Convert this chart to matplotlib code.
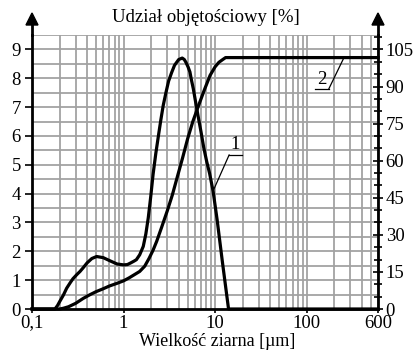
import matplotlib
matplotlib.use("Agg")
import matplotlib.pyplot as plt
from matplotlib.patches import Polygon
from matplotlib.ticker import FixedLocator, MultipleLocator, NullFormatter

plt.rcParams["font.family"] = ["Liberation Serif", "DejaVu Serif"]
plt.rcParams["font.size"] = 13.5

# Curve 1: frequency distribution, left axis [%]
size_1 = [0.1, 0.178, 0.19, 0.2, 0.22, 0.239, 0.26, 0.28, 0.31, 0.334, 0.36, 0.4,
          0.45, 0.508, 0.6, 0.7, 0.85, 1.0, 1.1, 1.2, 1.3, 1.38, 1.5, 1.64, 1.75,
          1.86, 1.98, 2.1, 2.25, 2.4, 2.55, 2.71, 2.9, 3.1, 3.35, 3.6, 4.0, 4.37,
          4.6, 4.8, 5.05, 5.3, 5.5, 5.77, 6.1, 6.5, 7.0, 7.5, 8.1, 8.7, 9.5, 10.5,
          12.0, 14.0, 600]
freq_1 = [0, 0, 0.12, 0.25, 0.48, 0.72, 0.9, 1.05, 1.2, 1.3, 1.42, 1.6,
          1.75, 1.82, 1.78, 1.68, 1.56, 1.53, 1.54, 1.6, 1.66, 1.71, 1.88, 2.17, 2.6,
          3.16, 3.9, 4.67, 5.4, 6.0, 6.55, 7.06, 7.5, 7.9, 8.2, 8.45, 8.65, 8.7,
          8.65, 8.55, 8.4, 8.22, 7.95, 7.64, 7.2, 6.7, 6.15, 5.6, 5.1, 4.7, 4.08, 3.1,
          1.63, 0, 0]

# Curve 2: cumulative distribution, right axis [%]
size_2 = [0.1, 0.2, 0.22, 0.25, 0.3, 0.363, 0.43, 0.5, 0.6, 0.7, 0.85, 1.0, 1.15,
          1.3, 1.5, 1.7, 1.9, 2.1, 2.3, 2.6, 3.0, 3.4, 3.8, 4.4, 5.0, 5.7, 6.5,
          7.6, 8.8, 10.0, 11.0, 12.2, 13.0, 600]
cum_2 = [0, 0, 0.3, 0.9, 2.3, 4.3, 5.8, 7.0, 8.2, 9.3, 10.4, 11.4, 12.6,
         13.8, 15.2, 17.3, 20.5, 23.8, 27.4, 33.0, 39.7, 46.0, 52.5, 61.0, 68.8, 75.8, 81.7,
         88.5, 94.5, 98.0, 99.8, 101.0, 101.7, 101.7]

x_ticks = [0.1, 1, 10, 100, 600]
x_labels = ["0,1", "1", "10", "100", "600"]
x_grid = [m * 10 ** e for e in range(-1, 3) for m in range(1, 10)] + [600]

W, H = 416, 350
fig = plt.figure(figsize=(W / 100, H / 100), dpi=100)
ax = fig.add_axes([32 / W, 41 / H, 346 / W, 274 / H])
ax2 = ax.twinx()

ax.set_xscale("log")
ax.set_xlim(0.1, 600)
ax.set_ylim(0, 9.5)
ax2.set_ylim(0, 9.5 * 105 / 9)

grid_kw = dict(color="#a2a2a2", lw=1.3, zorder=0)
for gx in x_grid:
    ax.axvline(gx, **grid_kw)
for gy in [i * 0.5 for i in range(1, 20)]:
    ax.axhline(gy, **grid_kw)

ax.plot(size_1, freq_1, color="black", lw=2.3, zorder=3, clip_on=False)
ax2.plot(size_2, cum_2, color="black", lw=2.3, zorder=3, clip_on=False)

# ticks
ax.xaxis.set_major_locator(FixedLocator(x_ticks))
ax.set_xticklabels(x_labels)
ax.xaxis.set_minor_locator(FixedLocator([]))
ax.xaxis.set_minor_formatter(NullFormatter())
ax.tick_params(axis="x", length=3, width=1.2, pad=1)
ax.set_yticks(range(0, 10))
ax.tick_params(axis="y", length=5, width=1.2, pad=3)
ax2.set_yticks(range(0, 106, 15))
ax2.yaxis.set_minor_locator(MultipleLocator(5))
ax2.tick_params(axis="y", which="major", direction="inout", length=7, width=1.2, pad=2)
ax2.tick_params(axis="y", which="minor", direction="inout", length=6, width=1.2)

for a in (ax, ax2):
    a.spines["top"].set_visible(False)
    for s in a.spines.values():
        s.set_linewidth(2)
ax2.spines["left"].set_visible(False)
ax.spines["right"].set_visible(False)
ax2.spines["bottom"].set_visible(False)

# axis arrows
ext = 10 / 274
for xa in (0, 1):
    ax.plot([xa, xa], [1, 1 + ext], transform=ax.transAxes, color="black",
            lw=2, clip_on=False)
for px in (32, 378):
    tri = [((px - 6) / W, 1 - 25 / H), ((px + 6) / W, 1 - 25 / H), (px / W, 1 - 13 / H)]
    fig.patches.append(Polygon(tri, closed=True, color="black",
                               transform=fig.transFigure, figure=fig))

# curve labels with leaders
ax.plot([14.2, 19.6], [5.34, 5.34], color="black", lw=0.9)
ax.plot([9.46, 14.2], [4.08, 5.34], color="black", lw=0.9)
ax.text(16.7, 5.4, "1", ha="center", va="bottom")
ax.plot([123, 174.7], [7.64, 7.64], color="black", lw=0.9)
ax.plot([174.7, 250], [7.64, 8.66], color="black", lw=0.9)
ax.text(146, 7.66, "2", ha="center", va="bottom")

fig.text(206 / W, 1 - 17 / H, "Udział objętościowy [%]", ha="center", va="center")
fig.text(217 / W, 1 - 341 / H, "Wielkość ziarna [µm]", ha="center", va="center",
         fontsize=13)

fig.savefig("out.png", dpi=100)
